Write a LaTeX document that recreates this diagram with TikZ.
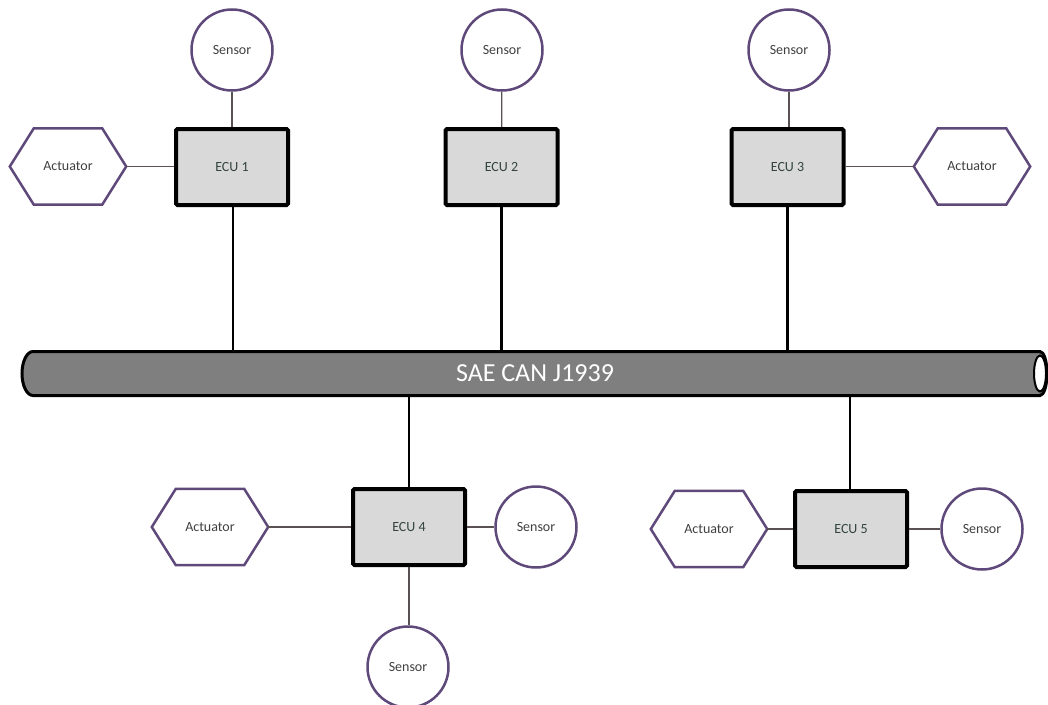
\documentclass[tikz,border=0pt]{standalone}
\usepackage{fontspec}
\setmainfont{Carlito}
\definecolor{purp}{HTML}{5F497A}
\definecolor{ecufill}{HTML}{D9D9D9}
\definecolor{ecutext}{HTML}{33443F}
\definecolor{lbltext}{HTML}{404040}
\definecolor{thinline}{HTML}{5A5252}
\definecolor{busfill}{HTML}{7F7F7F}
\begin{document}
\begin{tikzpicture}[x=1pt,y=-1pt,
  ecubox/.style={draw=black, line width=4pt, fill=ecufill, rounded corners=1.5pt,
    minimum width=112pt, minimum height=76pt, inner sep=0pt,
    text=ecutext, font=\fontsize{14}{16}\selectfont},
  sensorbox/.style={circle, draw=purp, line width=2.5pt, fill=white,
    minimum size=81pt, inner sep=0pt, text=lbltext, font=\fontsize{14}{16}\selectfont},
  hexbox/.style={minimum width=116pt, minimum height=76pt, inner sep=0pt,
    text=lbltext, font=\fontsize{14}{16}\selectfont},
  hexline/.style={draw=purp, line width=2.5pt, line join=miter},
  thin/.style={draw=thinline, line width=1.3pt},
  stub/.style={draw=black, line width=2.5pt}]

\useasboundingbox (0,0) rectangle (1048,704);

% bus cylinder
\node[minimum width=1026pt, minimum height=44pt, inner sep=0pt] (bus) at (534,373.5) {};
\draw[fill=busfill, line width=3pt]
  (33,351.5) arc[start angle=90, end angle=270, x radius=11pt, y radius=22pt]
  -- (1040,395.5) arc[start angle=-90, end angle=90, x radius=7pt, y radius=22pt] -- cycle;
\draw[fill=white, line width=2pt] (1040,373.5) ellipse[x radius=6pt, y radius=18pt];
\node[text=white, font=\fontsize{26}{30}\selectfont] (buslabel) at (535,373.5) {SAE CAN J1939};

% ECUs
\node[ecubox] (ecu1) at (232,167) {ECU 1};
\node[ecubox] (ecu2) at (501.5,167) {ECU 2};
\node[ecubox] (ecu3) at (787.5,167) {ECU 3};
\node[ecubox] (ecu4) at (409,527) {ECU 4};
\node[ecubox] (ecu5) at (851,529) {ECU 5};

% sensors
\node[sensorbox] (s1) at (232,50) {Sensor};
\node[sensorbox] (s2) at (502,50) {Sensor};
\node[sensorbox] (s3) at (789,50) {Sensor};
\node[sensorbox] (s4r) at (536,527) {Sensor};
\node[sensorbox] (s4b) at (408,667) {Sensor};
\node[sensorbox] (s5) at (982,529) {Sensor};

% actuators
\node[hexbox] (a1) at (68,166.5) {Actuator};
\node[hexbox] (a3) at (972,166.5) {Actuator};
\node[hexbox] (a4) at (210,527) {Actuator};
\node[hexbox] (a5) at (709,529) {Actuator};
\foreach \h in {a1,a3,a4,a5}
  \draw[hexline] (\h.west) -- ([xshift=24pt]\h.north west)
    -- ([xshift=-24pt]\h.north east) -- (\h.east)
    -- ([xshift=-24pt]\h.south east)
    -- ([xshift=24pt]\h.south west) -- cycle;

% local links
\draw[thin] (s1) -- (ecu1);
\draw[thin] (s2) -- (ecu2);
\draw[thin] (s3.south) -- (s3.south |- ecu3.north);
\draw[thin] (a1.east) -- (ecu1.west |- a1.east);
\draw[thin] (ecu3.east |- a3.west) -- (a3.west);
\draw[thin] (a4.east) -- (ecu4.west |- a4.east);
\draw[thin] (ecu4.east |- s4r.west) -- (s4r.west);
\draw[thin] (ecu4.south |- s4b.north) -- (ecu4.south);
\draw[thin] (a5.east) -- (ecu5.west |- a5.east);
\draw[thin] (ecu5.east |- s5.west) -- (s5.west);

% bus drops
\draw[stub] ([xshift=1pt]ecu1.south) -- ([xshift=1pt]ecu1.south |- bus.north);
\draw[stub] (ecu2.south) -- (ecu2.south |- bus.north);
\draw[stub] (ecu3.south) -- (ecu3.south |- bus.north);
\draw[stub] (ecu4.north) -- (ecu4.north |- bus.south);
\draw[stub] ([xshift=-1pt]ecu5.north) -- ([xshift=-1pt]ecu5.north |- bus.south);
\end{tikzpicture}
\end{document}
